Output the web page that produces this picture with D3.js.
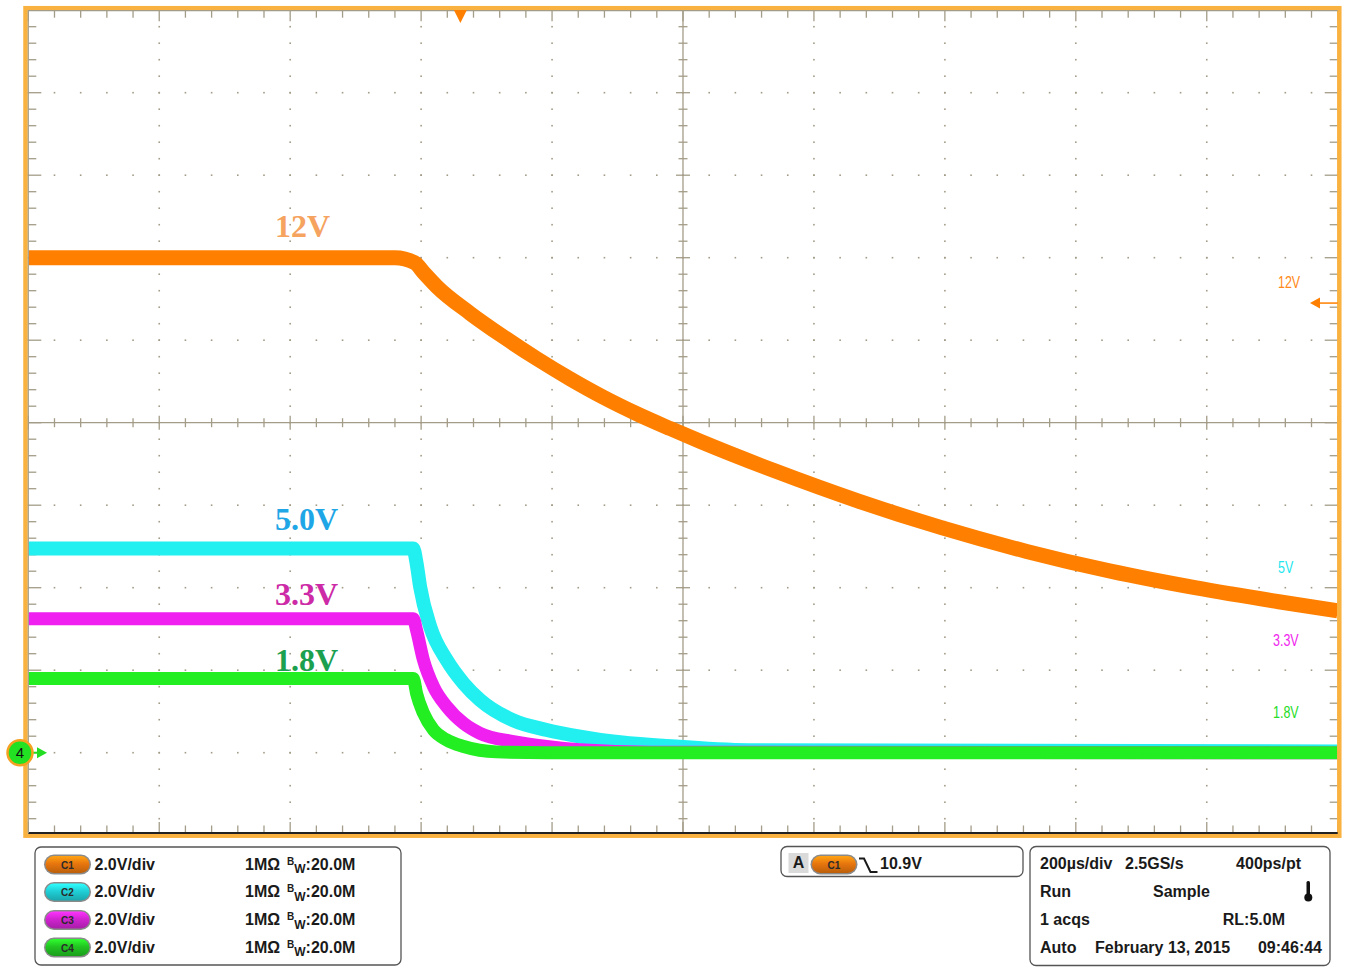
<!DOCTYPE html>
<html>
<head>
<meta charset="utf-8">
<script src="https://cdn.jsdelivr.net/npm/d3@7"></script>
<style>
  html, body { margin: 0; padding: 0; background: #ffffff; }
  svg { display: block; }
  .info { font-family: "Liberation Sans", Arial, sans-serif; font-weight: bold; font-size: 16px; fill: #1a1a1a; }
</style>
</head>
<body>
<svg id="scope" width="1349" height="967"></svg>
<script>
// ---- Acquisition settings ----
const voltsPerDiv = 2.0;          // all four channels
const timePerDivUs = 200;         // 200 µs/div
const hDivs = 10, vDivs = 10;
const groundDiv = -4;             // channel ground reference (divisions from centre)
const triggerTimeUs = 660;        // trigger position on the time axis
const triggerLevelV = 10.9;       // C1 falling-edge trigger level

// ---- Captured waveforms (time in µs from left edge, volts) ----
const c1Time = [0, 560, 590, 605, 624, 675, 726, 777, 828, 878, 929, 980, 1026, 1139, 1268, 1396, 1525, 1653, 1782, 1910, 2000];
const c1Volts = [12.0, 12.0, 11.88, 11.62, 11.3, 10.65, 10.08, 9.55, 9.06, 8.62, 8.22, 7.86, 7.55, 6.84, 6.1, 5.45, 4.88, 4.4, 4.0, 3.66, 3.44];

const c2Time = [0, 588, 593, 598.5, 614, 639, 665, 690, 740, 792, 843, 893, 970, 1100, 2000];
const c2Volts = [4.95, 4.95, 4.6, 4.02, 3.05, 2.25, 1.68, 1.28, 0.79, 0.55, 0.39, 0.27, 0.17, 0.06, 0.03];

const c3Time = [0, 588, 593, 603.5, 619, 639, 665, 690, 741, 792, 843, 950, 2000];
const c3Volts = [3.25, 3.25, 2.97, 2.25, 1.6, 1.12, 0.71, 0.47, 0.27, 0.15, 0.07, 0.01, 0.0];

const c4Time = [0, 588, 593, 603.5, 619, 639, 665, 715, 792, 2000];
const c4Volts = [1.8, 1.8, 1.44, 0.96, 0.55, 0.31, 0.15, 0.02, 0.0, 0.0];

// ---- Channel annotations ----
const railLabels = ["12V", "5.0V", "3.3V", "1.8V"];
const sideLabels = ["12V", "5V", "3.3V", "1.8V"];
const channelNames = ["C1", "C2", "C3", "C4"];
const channelScales = ["2.0V/div", "2.0V/div", "2.0V/div", "2.0V/div"];
const channelInputs = ["1MΩ", "1MΩ", "1MΩ", "1MΩ"];
const channelBandwidth = ["20.0M", "20.0M", "20.0M", "20.0M"];
const acqRows = [
  ["200µs/div", "2.5GS/s", "400ps/pt"],
  ["Run", "Sample", ""],
  ["1 acqs", "", "RL:5.0M"],
  ["Auto", "February 13, 2015", "09:46:44"]
];

// ---- Styling ----
const traceColors = ["#ff8000", "#22f0f0", "#f020f0", "#22ee22"];
const traceWidths = [15, 14, 13, 13];
const railLabelColors = ["#f5a35e", "#1ea6e6", "#cc2aa6", "#1ba050"];
const sideLabelColors = ["#ff8a1a", "#22e6ee", "#f026ee", "#26dc26"];
const badgeColors = ["#e8760e", "#20cfd6", "#d024d0", "#22c422"];
const gridColor = "#a39c88";
const frameOrange = "#f9b240";

const svg = d3.select("#scope");
const plot = { left: 28.3, right: 1337.7, top: 10.2, bottom: 835.2 };

const x = d3.scaleLinear().domain([0, hDivs * timePerDivUs]).range([plot.left, plot.right]);
const yDiv = d3.scaleLinear().domain([-vDivs / 2, vDivs / 2]).range([plot.bottom, plot.top]);
const yV = v => yDiv(v / voltsPerDiv + groundDiv);
const xDiv = d3.scaleLinear().domain([-hDivs / 2, hDivs / 2]).range([plot.left, plot.right]);

// ---- Graticule ----
const g = svg.append("g");
const cx = xDiv(0), cy = yDiv(0);
const minorX = d3.range(-hDivs / 2, hDivs / 2 + 0.001, 0.2);
const minorY = d3.range(-vDivs / 2, vDivs / 2 + 0.001, 0.2);
const majorX = d3.range(-hDivs / 2 + 1, hDivs / 2, 1);
const majorY = d3.range(-vDivs / 2 + 1, vDivs / 2, 1);
const isMajor = v => Math.abs(v - Math.round(v)) < 1e-6;

// dotted major lines
majorX.filter(d => d !== 0).forEach(d => {
  minorY.forEach(e => {
    g.append("rect").attr("x", xDiv(d) - 0.8).attr("y", yDiv(e) - 0.8)
      .attr("width", 1.6).attr("height", 1.6).attr("fill", gridColor);
  });
});
majorY.filter(d => d !== 0).forEach(d => {
  minorX.forEach(e => {
    g.append("rect").attr("x", xDiv(e) - 0.8).attr("y", yDiv(d) - 0.8)
      .attr("width", 1.6).attr("height", 1.6).attr("fill", gridColor);
  });
});

// centre cross with ticks
g.append("line").attr("x1", cx).attr("x2", cx).attr("y1", plot.top).attr("y2", plot.bottom)
  .attr("stroke", gridColor).attr("stroke-width", 1.3);
g.append("line").attr("x1", plot.left).attr("x2", plot.right).attr("y1", cy).attr("y2", cy)
  .attr("stroke", gridColor).attr("stroke-width", 1.3);
minorY.forEach(e => {
  const len = isMajor(e) ? 7 : 4.5;
  g.append("line").attr("x1", cx - len).attr("x2", cx + len).attr("y1", yDiv(e)).attr("y2", yDiv(e))
    .attr("stroke", gridColor).attr("stroke-width", 1.3);
});
minorX.forEach(e => {
  const len = isMajor(e) ? 7 : 4.5;
  g.append("line").attr("y1", cy - len).attr("y2", cy + len).attr("x1", xDiv(e)).attr("x2", xDiv(e))
    .attr("stroke", gridColor).attr("stroke-width", 1.3);
});

// edge ticks
minorX.forEach(e => {
  const len = isMajor(e) ? 11 : 7.5;
  g.append("line").attr("x1", xDiv(e)).attr("x2", xDiv(e)).attr("y1", plot.top).attr("y2", plot.top + len)
    .attr("stroke", gridColor).attr("stroke-width", 1.3);
  g.append("line").attr("x1", xDiv(e)).attr("x2", xDiv(e)).attr("y1", 833).attr("y2", 833 - len)
    .attr("stroke", gridColor).attr("stroke-width", 1.3);
});
minorY.forEach(e => {
  const len = isMajor(e) ? 13 : 8;
  g.append("line").attr("y1", yDiv(e)).attr("y2", yDiv(e)).attr("x1", plot.left).attr("x2", plot.left + len)
    .attr("stroke", gridColor).attr("stroke-width", 1.3);
  g.append("line").attr("y1", yDiv(e)).attr("y2", yDiv(e)).attr("x1", plot.right).attr("x2", plot.right - len)
    .attr("stroke", gridColor).attr("stroke-width", 1.3);
});

// ---- Traces ----
const series = [
  [c1Time, c1Volts], [c2Time, c2Volts], [c3Time, c3Volts], [c4Time, c4Volts]
];
const line = d3.line().x(d => x(d[0])).y(d => yV(d[1])).curve(d3.curveMonotoneX);
svg.append("clipPath").attr("id", "plotClip").append("rect")
  .attr("x", plot.left).attr("y", plot.top).attr("width", plot.right - plot.left).attr("height", 833 - plot.top);
const traces = svg.append("g").attr("clip-path", "url(#plotClip)");
series.forEach(([t, v], i) => {
  const pts = t.map((tt, k) => [tt, v[k]]);
  traces.append("path").datum(pts).attr("d", line)
    .attr("fill", "none").attr("stroke", traceColors[i]).attr("stroke-width", traceWidths[i])
    .attr("stroke-linejoin", "round").attr("stroke-linecap", "butt");
});

// ---- Rail labels (serif) ----
const labelBaselines = [237, 530, 605, 671];
railLabels.forEach((s, i) => {
  svg.append("text").attr("x", 275).attr("y", labelBaselines[i])
    .attr("font-family", "'Liberation Serif', 'Times New Roman', serif")
    .attr("font-weight", "bold").attr("font-size", 32)
    .attr("fill", railLabelColors[i]).text(s);
});

// ---- Small right-hand labels (condensed) ----
const sideX = [1278, 1278, 1273, 1273];
const sideY = [288, 573, 646, 718];
sideLabels.forEach((s, i) => {
  svg.append("text").attr("transform", `translate(${sideX[i]},${sideY[i]}) scale(0.78,1)`)
    .attr("font-family", "'Liberation Sans', Arial, sans-serif")
    .attr("font-size", 16).attr("fill", sideLabelColors[i]).text(s);
});

// ---- Frame ----
svg.append("rect").attr("x", 25.5).attr("y", 8.2).attr("width", 1313.8).attr("height", 827.5)
  .attr("fill", "none").attr("stroke", frameOrange).attr("stroke-width", 4.5);
svg.append("line").attr("x1", plot.left).attr("x2", plot.right).attr("y1", 833).attr("y2", 833)
  .attr("stroke", "#222").attr("stroke-width", 2);
svg.append("line").attr("x1", plot.left).attr("x2", plot.left).attr("y1", plot.top).attr("y2", 833)
  .attr("stroke", gridColor).attr("stroke-width", 1.2);
svg.append("line").attr("x1", plot.left).attr("x2", plot.right).attr("y1", plot.top + 0.5).attr("y2", plot.top + 0.5)
  .attr("stroke", gridColor).attr("stroke-width", 1.2);

// trigger position marker
const tx = x(triggerTimeUs);
svg.append("path").attr("d", `M${tx - 6.5},10 L${tx + 6.5},10 L${tx},23 Z`).attr("fill", "#ff7f00");

// trigger level marker (right edge)
const ty = yV(triggerLevelV);
svg.append("line").attr("x1", 1318).attr("x2", plot.right).attr("y1", ty).attr("y2", ty)
  .attr("stroke", "#ff8000").attr("stroke-width", 1.5);
svg.append("path").attr("d", `M1310,${ty} L1320,${ty - 5.5} L1320,${ty + 5.5} Z`).attr("fill", "#ff8000");

// ground reference marker for the channels
const gy = yV(0);
svg.append("line").attr("x1", 32).attr("x2", 40).attr("y1", gy).attr("y2", gy)
  .attr("stroke", "#22dd22").attr("stroke-width", 2);
svg.append("path").attr("d", `M37,${gy - 5.5} L47,${gy} L37,${gy + 5.5} Z`).attr("fill", "#22dd22");
svg.append("circle").attr("cx", 20).attr("cy", gy).attr("r", 12.5)
  .attr("fill", "#22e022").attr("stroke", "#f5a020").attr("stroke-width", 2.5);
svg.append("text").attr("x", 20).attr("y", gy + 5.5).attr("text-anchor", "middle")
  .attr("font-family", "'Liberation Sans', Arial, sans-serif").attr("font-size", 15)
  .attr("fill", "#111").text("4");

// ---- Badge helper ----
const defs = svg.append("defs");
badgeColors.forEach((c, i) => {
  const gr = defs.append("linearGradient").attr("id", "bg" + i).attr("x1", 0).attr("y1", 0).attr("x2", 0).attr("y2", 1);
  gr.append("stop").attr("offset", "0%").attr("stop-color", d3.color(c).brighter(0.9));
  gr.append("stop").attr("offset", "45%").attr("stop-color", c);
  gr.append("stop").attr("offset", "100%").attr("stop-color", d3.color(c).darker(0.6));
});
function badge(xp, yp, i) {
  svg.append("rect").attr("x", xp - 1.5).attr("y", yp - 1.5).attr("width", 47).attr("height", 20)
    .attr("rx", 10).attr("fill", "#8a8a8a");
  svg.append("rect").attr("x", xp).attr("y", yp).attr("width", 44).attr("height", 17)
    .attr("rx", 8.5).attr("fill", `url(#bg${i})`);
  svg.append("text").attr("x", xp + 22).attr("y", yp + 12.5).attr("text-anchor", "middle")
    .attr("font-family", "'Liberation Sans', Arial, sans-serif").attr("font-weight", "bold")
    .attr("font-size", 10).attr("fill", "#2a2a2a").text(channelNames[i]);
}

// ---- Channel panel ----
svg.append("rect").attr("x", 35).attr("y", 847).attr("width", 366).attr("height", 118).attr("rx", 6)
  .attr("fill", "#fff").attr("stroke", "#555").attr("stroke-width", 1.3);
const rowBase = [869.5, 897, 925, 952.5];
channelNames.forEach((n, i) => {
  badge(45.5, rowBase[i] - 13.5, i);
  svg.append("text").attr("class", "info").attr("x", 94.5).attr("y", rowBase[i]).text(channelScales[i]);
  svg.append("text").attr("class", "info").attr("x", 245).attr("y", rowBase[i]).text(channelInputs[i]);
  // bandwidth limit: small raised "B", lowered "W", then the value
  const bw = svg.append("text").attr("class", "info").attr("x", 287).attr("y", rowBase[i] - 5);
  bw.append("tspan").attr("font-size", 10).text("B");
  bw.append("tspan").attr("font-size", 12).attr("dy", 8.5).text("W");
  bw.append("tspan").attr("font-size", 16).attr("dy", -3.5).text(":" + channelBandwidth[i]);
});

// ---- Trigger panel ----
svg.append("rect").attr("x", 781).attr("y", 846.5).attr("width", 242).attr("height", 30).attr("rx", 6)
  .attr("fill", "#fff").attr("stroke", "#555").attr("stroke-width", 1.3);
svg.append("rect").attr("x", 788.5).attr("y", 853).attr("width", 20).attr("height", 20).attr("fill", "#dadada");
svg.append("text").attr("class", "info").attr("x", 798.5).attr("y", 868).attr("text-anchor", "middle")
  .attr("font-size", 14).text("A");
badge(812, 856, 0);
svg.append("path").attr("d", "M859,858.5 L864,858.5 L870.5,872 L877.5,872")
  .attr("fill", "none").attr("stroke", "#1a1a1a").attr("stroke-width", 2);
svg.append("text").attr("class", "info").attr("x", 880).attr("y", 868.5).text(triggerLevelV.toFixed(1) + "V");

// ---- Acquisition panel ----
svg.append("rect").attr("x", 1030).attr("y", 846.5).attr("width", 300).attr("height", 119).attr("rx", 6)
  .attr("fill", "#fff").attr("stroke", "#555").attr("stroke-width", 1.3);
const acqX = [[1040, 1125, 1301], [1040, 1153, null], [1040, null, 1285], [1040, 1095, 1322]];
const acqBase = [868.5, 896.5, 925, 952.5];
acqRows.forEach((row, r) => {
  row.forEach((s, c) => {
    if (!s) return;
    svg.append("text").attr("class", "info").attr("x", acqX[r][c]).attr("y", acqBase[r])
      .attr("text-anchor", c === 2 ? "end" : "start").text(s);
  });
});
// thermometer icon
svg.append("rect").attr("x", 1306.5).attr("y", 881).attr("width", 3.5).attr("height", 14).attr("rx", 1.5).attr("fill", "#111");
svg.append("circle").attr("cx", 1308.3).attr("cy", 897.5).attr("r", 4).attr("fill", "#111");
</script>
</body>
</html>
